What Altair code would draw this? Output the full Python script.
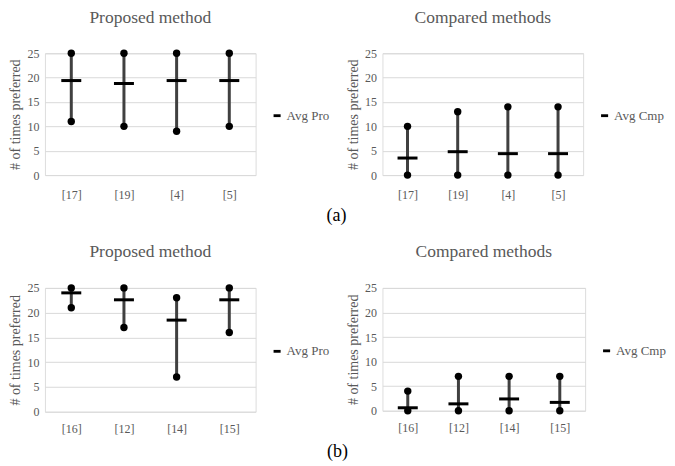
import altair as alt
import pandas as pd

# ---- data ----
cats_a = ["[17]", "[19]", "[4]", "[5]"]
pro_a_min = [11, 10, 9, 10]
pro_a_max = [25, 25, 25, 25]
pro_a_avg = [19.4, 18.8, 19.4, 19.4]
cmp_a_min = [0, 0, 0, 0]
cmp_a_max = [10, 13, 14, 14]
cmp_a_avg = [3.5, 4.8, 4.4, 4.4]

cats_b = ["[16]", "[12]", "[14]", "[15]"]
pro_b_min = [21, 17, 7, 16]
pro_b_max = [25, 25, 23, 25]
pro_b_avg = [24.0, 22.6, 18.5, 22.6]
cmp_b_min = [0, 0, 0, 0]
cmp_b_max = [4, 7, 7, 7]
cmp_b_avg = [0.6, 1.4, 2.4, 1.7]

y_ticks = [0, 5, 10, 15, 20, 25]

FONT = "Liberation Serif"
GREY = "#595959"
DASH = "M-1,-0.4H1V0.4H-1Z"


def panel(title, cats, mins, maxs, avgs, legend_label, width, height, xpad):
    df = pd.DataFrame({"cat": cats, "min": mins, "max": maxs, "avg": avgs,
                       "series": [legend_label] * len(cats)})
    pts = pd.DataFrame({"cat": cats + cats, "val": mins + maxs})
    x = alt.X("cat:N", sort=cats, title=None,
              scale=alt.Scale(type="point", padding=0.5),
              axis=alt.Axis(labelAngle=0, ticks=False, domain=False, grid=False,
                            labelPadding=xpad, labelFontSize=12, labelColor=GREY,
                            labelFont=FONT))
    yaxis = alt.Axis(values=y_ticks, ticks=False, domain=False, grid=True,
                     gridColor="#d9d9d9", gridWidth=1, labelPadding=6,
                     labelFontSize=12, labelColor=GREY, labelFont=FONT,
                     title="# of times preferred", titleFont=FONT,
                     titleFontSize=14, titleColor=GREY, titleFontWeight="normal",
                     titlePadding=4)
    yscale = alt.Scale(domain=[0, 25], nice=False, zero=True)
    rule = alt.Chart(df).mark_rule(color="#404040", strokeWidth=3).encode(
        x=x, y=alt.Y("min:Q", scale=yscale, axis=yaxis), y2="max:Q")
    dots = alt.Chart(pts).mark_circle(color="black", size=55, opacity=1).encode(
        x=x, y=alt.Y("val:Q", scale=yscale, axis=yaxis))
    tick = alt.Chart(df).mark_tick(thickness=3, size=20, opacity=1).encode(
        x=x, y=alt.Y("avg:Q", scale=yscale, axis=yaxis),
        color=alt.Color("series:N",
                        scale=alt.Scale(domain=[legend_label], range=["black"]),
                        legend=alt.Legend(title=None, orient="none",
                                          legendX=width + 15,
                                          legendY=height / 2 - 5,
                                          padding=0, offset=0,
                                          symbolType=DASH, symbolSize=50,
                                          symbolStrokeWidth=0,
                                          labelOffset=3,
                                          labelFont=FONT, labelFontSize=13,
                                          labelColor=GREY)))
    return alt.layer(rule, dots, tick).properties(
        width=width, height=height,
        title=alt.TitleParams(title, font=FONT, fontSize=17.5, color=GREY,
                              fontWeight="normal", offset=21, anchor="middle"))


def caption(text, off):
    return alt.TitleParams(text, orient="bottom", anchor="middle", font=FONT,
                           fontSize=18, color="black", fontWeight="normal",
                           offset=off)


top = alt.hconcat(
    panel("Proposed method", cats_a, pro_a_min, pro_a_max, pro_a_avg, "Avg Pro", 211, 122, 14),
    panel("Compared methods", cats_a, cmp_a_min, cmp_a_max, cmp_a_avg, "Avg Cmp", 201, 122, 14),
    spacing=15,
).resolve_scale(color="independent").properties(title=caption("(a)", 6))

bottom = alt.hconcat(
    panel("Proposed method", cats_b, pro_b_min, pro_b_max, pro_b_avg, "Avg Pro", 211, 124, 12),
    panel("Compared methods", cats_b, cmp_b_min, cmp_b_max, cmp_b_avg, "Avg Cmp", 203, 123, 12),
    spacing=15,
).resolve_scale(color="independent").properties(title=caption("(b)", 8))

chart = alt.vconcat(top, bottom, spacing=18).properties(padding=0).configure_view(
    stroke=None).configure(background="white")

chart.save("out.html", embed_options={"renderer": "svg", "actions": False})
